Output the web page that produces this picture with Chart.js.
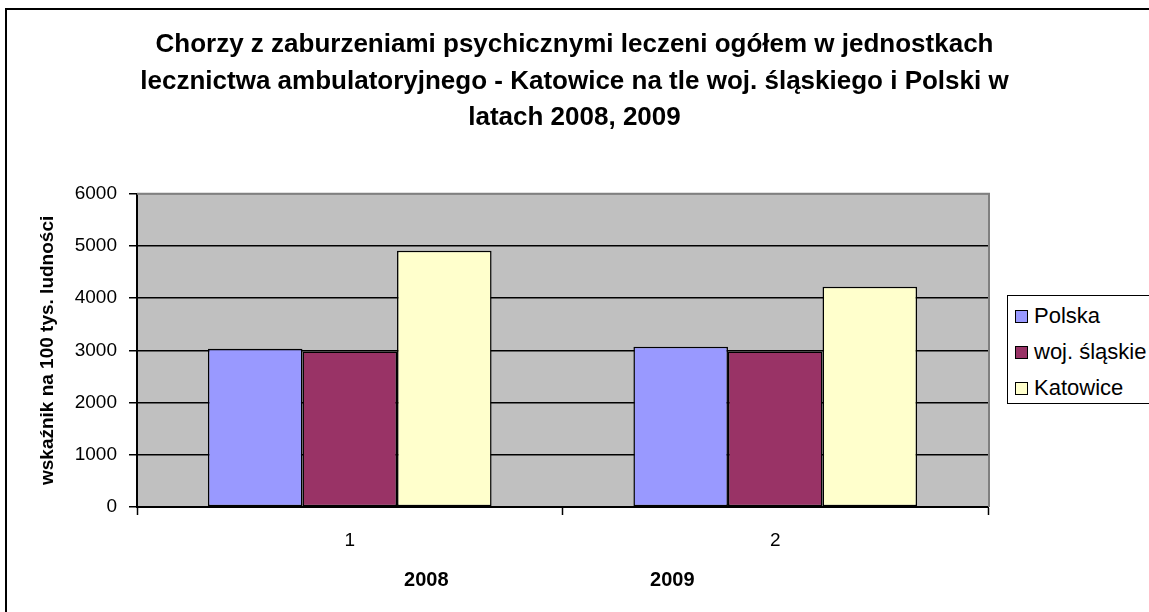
<!DOCTYPE html>
<html lang="pl">
<head>
<meta charset="utf-8">
<title>Chorzy z zaburzeniami psychicznymi - Katowice</title>
<script src="https://cdn.jsdelivr.net/npm/chart.js@4/dist/chart.umd.min.js"></script>
<style>
    html, body {
        margin: 0;
        padding: 0;
        background: #fff;
        overflow: hidden;
    }
    #wrap {
        position: relative;
        width: 1149px;
        height: 612px;
        overflow: hidden;
    }
    #frame {
        position: absolute;
        left: 5px;
        top: 8px;
        width: 2000px;
        height: 2000px;
        border: 2px solid #000;
        pointer-events: none;
    }
    #chart {
        position: absolute;
        left: 0;
        top: 0;
    }
    #legend {
        position: absolute;
        left: 1007px;
        top: 295px;
        width: 300px;
        height: 109px;
        border: 1.5px solid #000;
        background: #fff;
        font-family: "Liberation Sans", Arial, sans-serif;
        font-size: 22px;
        color: #000;
        box-sizing: border-box;
        padding-top: 2px;
    }
    .legend-item {
        display: flex;
        align-items: center;
        height: 36px;
        white-space: nowrap;
    }
    .legend-box {
        width: 11px;
        height: 11px;
        border: 1px solid #000;
        margin-left: 7px;
        margin-right: 6px;
        flex: none;
    }
</style>
</head>
<body>
<div id="wrap">
    <canvas id="chart" width="1149" height="612"></canvas>
    <div id="legend"></div>
    <div id="frame"></div>
</div>
<script>
// Chart data
const categories = ['1', '2'];
const yearLabels = ['2008', '2009'];
const polska = [3030, 3070];
const wojSlaskie = [2980, 2980];
const katowice = [4910, 4220];

const titleLines = [
    'Chorzy z zaburzeniami psychicznymi leczeni ogółem w jednostkach',
    'lecznictwa ambulatoryjnego - Katowice na tle woj. śląskiego i Polski w',
    'latach 2008, 2009'
];
const yAxisTitle = 'wskaźnik na 100 tys. ludności';

Chart.defaults.font.family = '"Liberation Sans", Arial, sans-serif';
Chart.defaults.color = '#000';

// Grey plot area with grey top/right border, like the Excel original
const plotArea = {
    id: 'plotArea',
    beforeDraw(chart) {
        const { ctx, chartArea: a } = chart;
        ctx.save();
        ctx.fillStyle = '#C0C0C0';
        ctx.fillRect(a.left, a.top, a.right - a.left, a.bottom - a.top);
        ctx.restore();
    },
    afterDraw(chart) {
        const { ctx, chartArea: a } = chart;
        ctx.save();
        ctx.strokeStyle = '#808080';
        ctx.lineWidth = 2;
        ctx.beginPath();
        ctx.moveTo(a.left, a.top);
        ctx.lineTo(a.right + 1, a.top);
        ctx.lineTo(a.right + 1, a.bottom);
        ctx.stroke();
        ctx.restore();
    }
};

// Year captions under the category labels
const yearCaptions = {
    id: 'yearCaptions',
    afterDraw(chart) {
        const { ctx, chartArea: a } = chart;
        const spots = [0.34, 0.629];
        ctx.save();
        ctx.font = 'bold 20px "Liberation Sans", Arial, sans-serif';
        ctx.fillStyle = '#000';
        ctx.textAlign = 'center';
        ctx.textBaseline = 'middle';
        yearLabels.forEach((label, i) => {
            ctx.fillText(label, a.left + spots[i] * (a.right - a.left), 580);
        });
        ctx.restore();
    }
};

// Keeps room on the right for the legend without shifting the title
const legendSpace = {
    position: 'right',
    afterFit(axis) { axis.width = 161; },
    grid: { drawOnChartArea: false, drawTicks: false },
    border: { display: false },
    ticks: { display: false }
};

const chart = new Chart(document.getElementById('chart'), {
    type: 'bar',
    data: {
        labels: categories,
        datasets: [
            { label: 'Polska', data: polska, backgroundColor: '#9999FF' },
            { label: 'woj. śląskie', data: wojSlaskie, backgroundColor: '#993366' },
            { label: 'Katowice', data: katowice, backgroundColor: '#FFFFCC' }
        ]
    },
    options: {
        responsive: false,
        animation: false,
        devicePixelRatio: 1,
        layout: {
            padding: 0
        },
        datasets: {
            bar: {
                borderColor: '#000',
                borderWidth: 1.5,
                borderSkipped: false,
                barPercentage: 1,
                categoryPercentage: 3 / 4.5
            }
        },
        plugins: {
            legend: { display: false },
            tooltip: { enabled: false },
            title: {
                display: true,
                text: titleLines,
                font: { size: 26, weight: 'bold', lineHeight: 1.4 },
                padding: { top: 26.8, bottom: 57.8 },
                color: '#000'
            }
        },
        scales: {
            x: {
                afterFit(axis) { axis.height = 105; },
                grid: {
                    drawOnChartArea: false,
                    drawTicks: true,
                    tickLength: 8,
                    tickColor: '#000',
                    tickWidth: 1.5
                },
                border: { color: '#000', width: 2 },
                ticks: {
                    font: { size: 19 },
                    padding: 14
                }
            },
            y: {
                min: 0,
                max: 6000,
                afterFit(axis) { axis.width = 137; },
                ticks: {
                    stepSize: 1000,
                    font: { size: 19 },
                    padding: 12,
                    callback: value => String(value)
                },
                grid: {
                    color: ctx => (ctx.tick && ctx.tick.value === 6000 ? '#808080' : '#000'),
                    lineWidth: 1.5,
                    tickLength: 8,
                    tickColor: '#000',
                    tickWidth: 1.5
                },
                border: { color: '#000', width: 2 },
                title: {
                    display: true,
                    text: yAxisTitle,
                    font: { size: 19, weight: 'bold' },
                    padding: { top: 36.6, bottom: 0 }
                }
            },
            legendSpace: legendSpace
        }
    },
    plugins: [plotArea, yearCaptions]
});

// Build the boxed legend from the datasets
function buildLegend(chart) {
    const legend = document.getElementById('legend');
    legend.innerHTML = '';
    chart.data.datasets.forEach(ds => {
        const item = document.createElement('div');
        item.className = 'legend-item';
        const box = document.createElement('span');
        box.className = 'legend-box';
        box.style.background = ds.backgroundColor;
        const text = document.createElement('span');
        text.textContent = ds.label;
        item.appendChild(box);
        item.appendChild(text);
        legend.appendChild(item);
    });
}

buildLegend(chart);
</script>
</body>
</html>
